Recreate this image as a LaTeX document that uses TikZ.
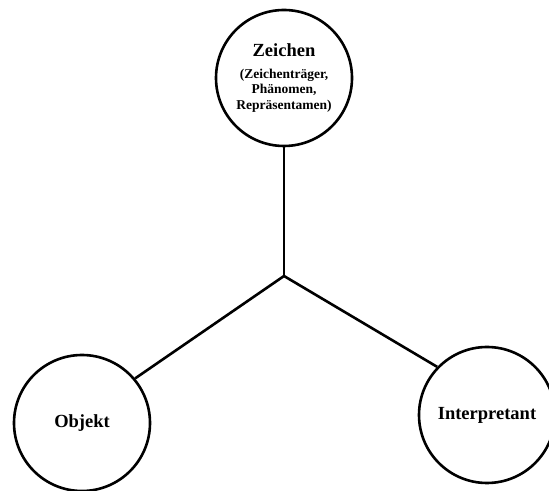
\documentclass[tikz,border=0pt]{standalone}
\usepackage{fontspec}
\setmainfont{Liberation Serif}
\usetikzlibrary{automata,positioning}

\begin{document}
\begin{tikzpicture}[x=1bp, y=1bp, auto, line width=2.6bp, font=\bfseries]
\tikzstyle{every state}=[fill=white,draw=black,line width=2.6bp,text=black,minimum size=136bp,inner sep=0pt]
\tikzstyle{big}=[font=\bfseries\fontsize{18.5bp}{22bp}\selectfont]
\tikzstyle{small}=[font=\bfseries\fontsize{13.5bp}{15.5bp}\selectfont]

\useasboundingbox (0,0) rectangle (549,491);

\coordinate     (M) at (284,215);
\node[state,small,align=center]    (Z) at (284,413)   {{\fontsize{18.5bp}{22bp}\selectfont Zeichen}\\[6bp](Zeichenträger,\\Phänomen,\\Repräsentamen)};
\node[state,big]    (O) at (82,68)     {Objekt};
\node[state,big]    (I) at (487,76)    {Interpretant};

\path (M) edge [-]     node {}         (Z.south);
\path (M) edge [-]     node {}         (O.40);
\path (M) edge [-]     node {}         (I.136);

\end{tikzpicture}
\end{document}
